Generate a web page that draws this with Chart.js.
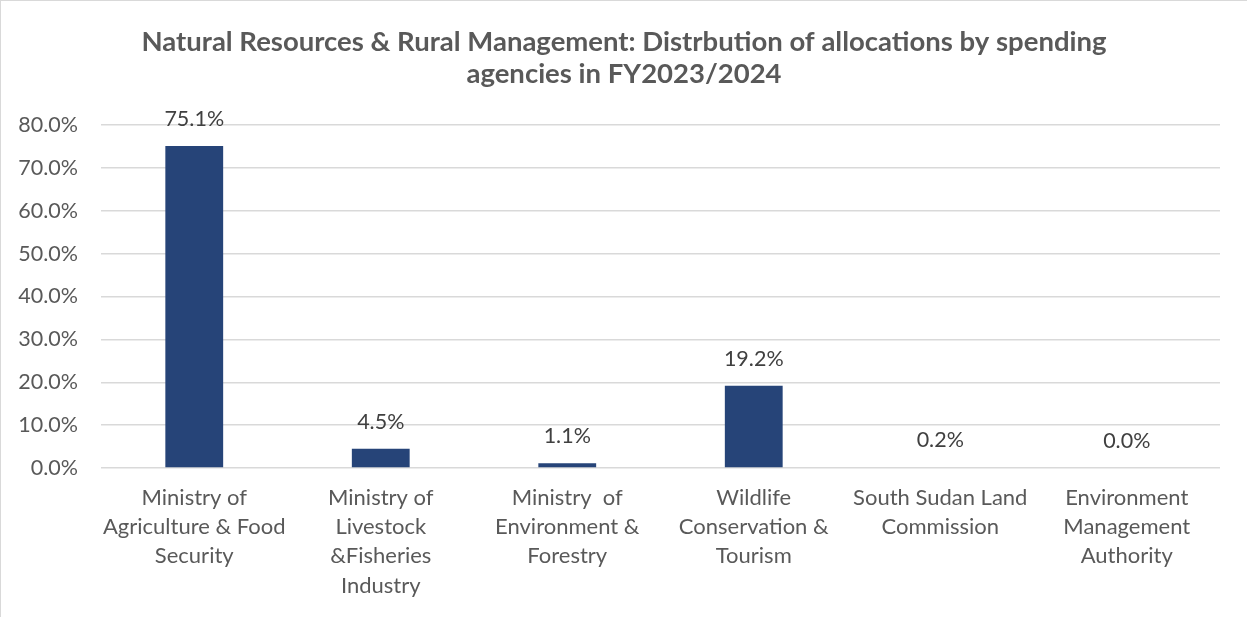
<!DOCTYPE html>
<html lang="en">
<head>
  <meta charset="UTF-8" />
  <title>Natural Resources & Rural Management allocations</title>
  <script src="https://cdn.jsdelivr.net/npm/chart.js@4.4.1/dist/chart.umd.min.js"></script>
  <style>
    html, body {
      margin: 0;
      padding: 0;
      background: #ffffff;
    }
    .chart-container {
      position: relative;
      width: 1247px;
      height: 617px;
      box-sizing: border-box;
      border-left: 1px solid #d9d9d9;
      border-top: 1px solid #d9d9d9;
    }
    canvas {
      display: block;
    }
  </style>
</head>
<body>
  <div class="chart-container">
    <canvas id="allocations"></canvas>
  </div>
  <script>
    const agencies = [
      ["Ministry of", "Agriculture & Food", "Security"],
      ["Ministry of", "Livestock", "&Fisheries", "Industry"],
      ["Ministry  of", "Environment &", "Forestry"],
      ["Wildlife", "Conservation &", "Tourism"],
      ["South Sudan Land", "Commission"],
      ["Environment", "Management", "Authority"]
    ];
    const shares = [75.1, 4.5, 1.1, 19.2, 0.2, 0.0];
    const yTicks = [0, 10, 20, 30, 40, 50, 60, 70, 80];
    const titleLines = [
      "Natural Resources & Rural Management: Distrbution of allocations by spending",
      "agencies in FY2023/2024"
    ];

    const textColor = "#595959";
    const fontFamily = "Lato, 'Open Sans', sans-serif";

    // title centred on the whole canvas, values above each bar
    const chartText = {
      id: "chartText",
      afterDraw(chart) {
        const ctx = chart.ctx;
        ctx.save();
        ctx.textAlign = "center";
        ctx.textBaseline = "middle";
        ctx.font = "bold 27.5px " + fontFamily;
        ctx.fillStyle = textColor;
        titleLines.forEach((line, i) => {
          ctx.fillText(line, chart.width / 2, 41 + i * 32);
        });
        ctx.font = "21.5px " + fontFamily;
        ctx.fillStyle = "#404040";
        chart.getDatasetMeta(0).data.forEach((bar, i) => {
          ctx.fillText(shares[i].toFixed(1) + "%", bar.x, bar.y - 27);
        });
        ctx.restore();
      }
    };

    new Chart(document.getElementById("allocations"), {
      type: "bar",
      data: {
        labels: agencies,
        datasets: [{
          data: shares,
          backgroundColor: "#264478",
          borderWidth: 0,
          barPercentage: 0.62,
          categoryPercentage: 0.5
        }]
      },
      options: {
        responsive: true,
        maintainAspectRatio: false,
        animation: false,
        layout: {
          padding: { top: 124, right: 27, bottom: 0, left: 0 }
        },
        plugins: {
          legend: { display: false },
          tooltip: { enabled: false },
          title: { display: false }
        },
        scales: {
          x: {
            grid: { display: false, drawTicks: false },
            border: { display: false },
            ticks: {
              color: textColor,
              font: { family: fontFamily, size: 22, lineHeight: 1.33 },
              padding: 15,
              maxRotation: 0,
              autoSkip: false
            },
            afterFit(scale) { scale.height = 149; }
          },
          y: {
            min: 0,
            max: 80,
            afterBuildTicks(scale) {
              scale.ticks = yTicks.map(v => ({ value: v }));
            },
            grid: { color: "#d9d9d9", lineWidth: 1.5, drawTicks: false },
            border: { display: false },
            ticks: {
              color: textColor,
              font: { family: fontFamily, size: 21.5 },
              padding: 23,
              callback: v => v.toFixed(1) + "%"
            },
            afterFit(scale) { scale.width = 100; }
          }
        }
      },
      plugins: [chartText]
    });
  </script>
</body>
</html>
